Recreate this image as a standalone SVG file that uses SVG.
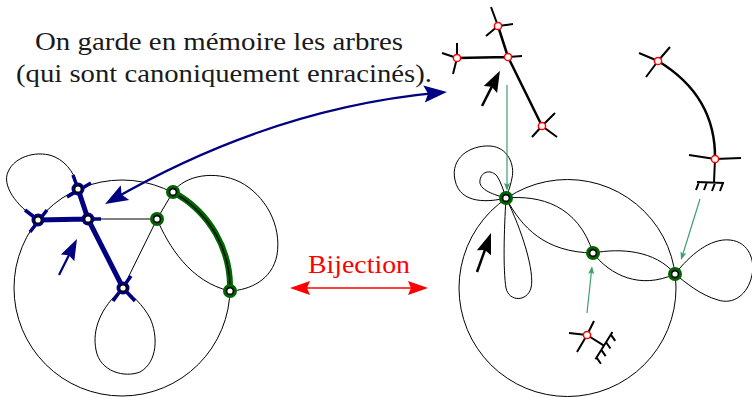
<svg xmlns="http://www.w3.org/2000/svg" width="752" height="397" viewBox="0 0 752 397">
<style>
.thin{fill:none;stroke:#000;stroke-width:1}
.blueE{fill:none;stroke:#000080;stroke-width:5}
.blueT{fill:none;stroke:#000080;stroke-width:3.5}
.greenE{fill:none;stroke:#006400;stroke-width:6}
.haloB{fill:#000080}
.haloG{fill:#006400}
.nd{fill:#fff;stroke:#000;stroke-width:1.6}
.tE{fill:none;stroke:#000;stroke-width:2.5}
.tT{fill:none;stroke:#000;stroke-width:2}
.rn{fill:#fff;stroke:#f00;stroke-width:1.5}
.gr{fill:none;stroke:#000;stroke-width:2}
.txt{font-family:"Liberation Serif","DejaVu Serif",serif;font-size:25px;fill:#1a1a1a}
.garr{fill:none;stroke:#3f9f6f;stroke-width:1.2}
</style>
<defs>
<marker id="hBlue" markerUnits="userSpaceOnUse" markerWidth="40" markerHeight="40" viewBox="-20 -20 40 40" refX="0" refY="0" orient="auto-start-reverse" overflow="visible">
<path d="M8,0 L-15,-8.5 L-11,0 L-15,8.5 Z" fill="#000080"/>
</marker>
<marker id="hBlack" markerUnits="userSpaceOnUse" markerWidth="40" markerHeight="40" viewBox="-20 -20 40 40" refX="0" refY="0" orient="auto" overflow="visible">
<path d="M8,0 L-13,-7.5 L-10,0 L-13,7.5 Z" fill="#000"/>
</marker>
<marker id="hBlueS" markerUnits="userSpaceOnUse" markerWidth="40" markerHeight="40" viewBox="-20 -20 40 40" refX="0" refY="0" orient="auto" overflow="visible">
<path d="M8,0 L-13,-7.5 L-10,0 L-13,7.5 Z" fill="#000080"/>
</marker>
<marker id="hRed" markerUnits="userSpaceOnUse" markerWidth="40" markerHeight="40" viewBox="-20 -20 40 40" refX="0" refY="0" orient="auto-start-reverse" overflow="visible">
<path d="M8,0 L-12,-7 L-9,0 L-12,7 Z" fill="#f00"/>
</marker>
<marker id="hGreen" markerUnits="userSpaceOnUse" markerWidth="20" markerHeight="20" viewBox="-10 -10 20 20" refX="0" refY="0" orient="auto" overflow="visible">
<path d="M4,0 L-4,-3 L-2.5,0 L-4,3 Z" fill="#3f9f6f"/>
</marker>
</defs>
<rect width="752" height="397" fill="#fff"/>

<g id="labels">
<text class="txt" x="35" y="50" textLength="368" lengthAdjust="spacingAndGlyphs">On garde en mémoire les arbres</text>
<text class="txt" x="16" y="82" textLength="416" lengthAdjust="spacingAndGlyphs">(qui sont canoniquement enracinés).</text>
<text class="txt" x="308" y="273" textLength="102" lengthAdjust="spacingAndGlyphs" style="fill:#f00">Bijection</text>
</g>

<g id="connectors">
<!-- left map -->
<path class="greenE" d="M173,192 A108,108 0 0 1 230,291"/>
<circle class="thin" cx="122" cy="288" r="108"/>
<path class="thin" d="M38,220 C15,205 2,185 8,172 C15,155 40,150 55,157 C68,163 76,176 78,189"/>
<path class="thin" d="M123,288 C100,308 92,330 96,350 C100,372 125,378 140,372 C158,362 158,335 150,318 C143,305 132,295 123,288"/>
<path class="thin" d="M157,219 C168,245 190,282 230,291"/>
<path class="thin" d="M173,192 C185,175 215,170 240,182 C265,195 282,225 277,255 C272,280 250,290 230,291"/>
<path class="thin" d="M88,219 L157,219 M157,219 L123,288 M157,219 L173,192"/>
<path class="blueE" d="M38,220 L88,219 M88,219 L78,189 M88,219 L123,288"/>
<path class="blueT" d="M30,232 L47,210 M38,220 L25,210 M67,197 L91,183 M78,189 L73,175 M88,219 L101,219 M131,276 L113,301 M123,288 L135,301"/>
<path class="thin" d="M173,192 A108,108 0 0 1 230,291"/>
<path d="M59,275 L73.4,246.2" fill="none" stroke="#000080" stroke-width="2.2" marker-end="url(#hBlueS)"/>
<!-- big blue curved arrow -->
<path d="M112,200 Q272,108 439,92.7" fill="none" stroke="#000080" stroke-width="2.2" marker-start="url(#hBlue)" marker-end="url(#hBlue)"/>
<!-- bijection -->
<path d="M298,288 L420,288" fill="none" stroke="#f00" stroke-width="1.5" marker-start="url(#hRed)" marker-end="url(#hRed)"/>
<!-- right map -->
<circle class="thin" cx="567.5" cy="288" r="108.5"/>
<path class="thin" d="M506,198 C490,202 460,205 455,180 C450,158 470,145 490,146 C508,147 515,165 512,178 C510,188 507,195 506,198"/>
<path class="thin" d="M506,198 C495,195 478,190 480,180 C482,170 492,170 497,176 C501,182 504,192 506,198"/>
<path class="thin" d="M506,198 C504,230 503,270 506,288 C509,302 527,302 531,288 C535,272 522,230 506,198"/>
<path class="thin" d="M506,198 C540,195 578,205 593,253"/>
<path class="thin" d="M506,198 C522,228 545,252 593,253"/>
<path class="thin" d="M593,253 C620,248 655,250 675,274"/>
<path class="thin" d="M593,253 C610,275 640,290 675,274"/>
<path class="thin" d="M675,274 C690,255 710,238 730,240 C750,242 755,262 752,275 C748,295 733,305 718,300 C700,295 685,282 675,274"/>
<path d="M477,272 L488.3,240.5" fill="none" stroke="#000" stroke-width="2.5" marker-end="url(#hBlack)"/>
<!-- trees -->
<path class="tE" d="M498,26 L508,57 M508,57 L457,58 M508,57 L542,126"/>
<path class="tT" d="M498,26 L491,7 M498,26 L513,24 M498,26 L486,36 M508,57 L522,56 M457,58 L457,43 M457,58 L453,74 M457,58 L442,53 M542,126 L532,137 M542,126 L555,113 M542,126 L557,137"/>
<path d="M482,106 L496.3,77.9" fill="none" stroke="#000" stroke-width="2.5" marker-end="url(#hBlack)"/>
<path class="tE" d="M658,61 Q716,96 715,159"/>
<path class="tT" d="M658,61 L639,53 M658,61 L670,47 M658,61 L646,77 M715,159 L689,155 M715,159 L741,158 M715,159 L714,182"/>
<path class="gr" d="M697,182 L724,183 M699,182 L696,190 M707,182 L704,190 M715,183 L712,191 M723,183 L720,191"/>
<path class="tT" d="M587,335 L594,321 M587,335 L569,333 M587,335 L577,352"/>
<g transform="translate(587,335) rotate(-58)">
<path class="gr" d="M0,0 L0,20 M-16,20 L16,20 M-14,20 L-17,27 M-5,20 L-8,27 M4,20 L1,27 M13,20 L10,27"/>
</g>
<!-- green arrows -->
<path class="garr" d="M507,85 L507,187" marker-end="url(#hGreen)"/>
<path class="garr" d="M700,199 L682.2,256.2" marker-end="url(#hGreen)"/>
<path class="garr" d="M587,313 L591.6,270" marker-end="url(#hGreen)"/>
</g>

<g id="nodeA"><circle class="haloB" cx="78" cy="189" r="6.5"/><circle class="nd" cx="78" cy="189" r="3.4"/></g>
<g id="nodeB"><circle class="haloB" cx="38" cy="220" r="6.5"/><circle class="nd" cx="38" cy="220" r="3.4"/></g>
<g id="nodeC"><circle class="haloB" cx="88" cy="219" r="6.5"/><circle class="nd" cx="88" cy="219" r="3.4"/></g>
<g id="nodeD"><circle class="haloB" cx="123" cy="288" r="6.5"/><circle class="nd" cx="123" cy="288" r="3.4"/></g>
<g id="nodeE"><circle class="haloG" cx="157" cy="219" r="7"/><circle class="nd" cx="157" cy="219" r="3.4"/></g>
<g id="nodeF"><circle class="haloG" cx="173" cy="192" r="7"/><circle class="nd" cx="173" cy="192" r="3.4"/></g>
<g id="nodeG"><circle class="haloG" cx="230" cy="291" r="7"/><circle class="nd" cx="230" cy="291" r="3.4"/></g>
<g id="nodeP"><circle class="haloG" cx="506" cy="198" r="7"/><circle class="nd" cx="506" cy="198" r="3.4"/></g>
<g id="nodeQ"><circle class="haloG" cx="593" cy="253" r="7"/><circle class="nd" cx="593" cy="253" r="3.4"/></g>
<g id="nodeR"><circle class="haloG" cx="675" cy="274" r="7"/><circle class="nd" cx="675" cy="274" r="3.4"/></g>
<g id="tree1-n1"><circle class="rn" cx="498" cy="26" r="3.6"/></g>
<g id="tree1-n2"><circle class="rn" cx="508" cy="57" r="3.6"/></g>
<g id="tree1-n3"><circle class="rn" cx="457" cy="58" r="3.6"/></g>
<g id="tree1-n4"><circle class="rn" cx="542" cy="126" r="3.6"/></g>
<g id="tree2-n1"><circle class="rn" cx="658" cy="61" r="3.6"/></g>
<g id="tree2-n2"><circle class="rn" cx="715" cy="159" r="3.6"/></g>
<g id="tree3-n1"><circle class="rn" cx="587" cy="335" r="3.6"/></g>
</svg>
